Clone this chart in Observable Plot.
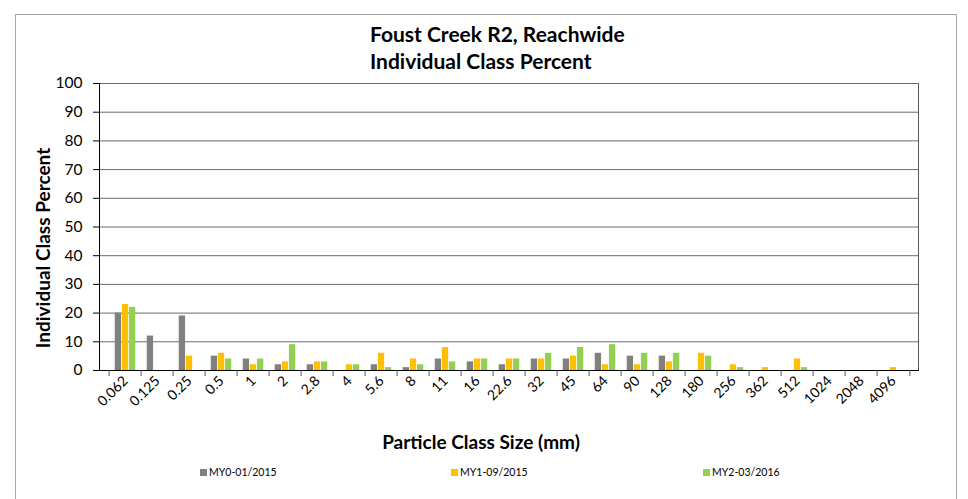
<!DOCTYPE html>
<html>
<head>
<meta charset="utf-8">
<script src="https://cdn.jsdelivr.net/npm/d3@7"></script>
<script src="https://cdn.jsdelivr.net/npm/@observablehq/plot@0.6"></script>
<style>
  body { margin: 0; background: #fff; font-family: Lato, "Open Sans", sans-serif; }
  #wrap { position: relative; width: 968px; height: 499px; overflow: hidden; }
  #border { position: absolute; left: 15px; top: 14px; width: 942px; height: 500px; border: 1px solid #a6a6a6; box-sizing: border-box; }
  #title { position: absolute; left: 370px; top: 20px; text-align: left; font-weight: bold; font-size: 21px; line-height: 27px; color: #000; white-space: nowrap; }
  #chart { position: absolute; left: 0; top: 0; }
  #xlabel { position: absolute; left: 0; width: 962px; top: 430px; text-align: center; font-weight: bold; font-size: 19px; }
  #ylabel { position: absolute; left: 42px; top: 248px; transform: translate(-50%, -50%) rotate(-90deg); font-weight: bold; font-size: 19px; white-space: nowrap; }
  .leg { position: absolute; top: 466px; font-size: 10.5px; display: flex; align-items: center; color: #000; }
  .sw { width: 7px; height: 7px; margin-right: 2px; }
</style>
</head>
<body>
<div id="wrap">
  <div id="border"></div>
  <div id="title">Foust Creek R2, Reachwide<br>Individual Class Percent</div>
  <div id="chart"></div>
  <div id="xlabel">Particle Class Size (mm)</div>
  <div id="ylabel">Individual Class Percent</div>
  <div id="legend"></div>
</div>
<script>
const categories = ["0.062","0.125","0.25","0.5","1","2","2.8","4","5.6","8","11","16","22.6","32","45","64","90","128","180","256","362","512","1024","2048","4096"];
const my0 = [20,12,19,5,4,2,2,0,2,1,4,3,2,4,4,6,5,5,0,0,0,0,0,0,0];
const my1 = [23,0,5,6,2,3,3,2,6,4,8,4,4,4,5,2,2,3,6,2,1,4,0,0,1];
const my2 = [22,0,0,4,4,9,3,2,1,2,3,4,4,6,8,9,6,6,5,1,0,1,0,0,0];
const seriesNames = ["MY0-01/2015","MY1-09/2015","MY2-03/2016"];
const colors = ["#808080","#FFC000","#92D050"];
const yTicks = [0,10,20,30,40,50,60,70,80,90,100];

const data = categories.map((c, i) => ({size: c, v0: my0[i], v1: my1[i], v2: my2[i]}));

const W = 968, mL = 99, mR = 50;
const bw = (W - mL - mR) / categories.length;
const barW = 7.1;
const inset = (bw - barW) / 2;

const chart = Plot.plot({
  width: W,
  height: 455,
  marginTop: 83,
  marginLeft: mL,
  marginRight: mR,
  marginBottom: 85,
  style: {fontFamily: "Lato, 'Open Sans', sans-serif", fontSize: "14px", color: "#000", background: "transparent"},
  x: {domain: categories, padding: 0},
  y: {domain: [0, 100]},
  marks: [
    Plot.ruleY(yTicks.slice(1), {y: d => d, stroke: "#6a6a6a", strokeWidth: 1}),
    Plot.frame({anchor: "right", stroke: "#595959"}),
    Plot.barY(data, {x: "size", y: "v0", fill: colors[0], dx: -barW, insetLeft: inset, insetRight: inset}),
    Plot.barY(data, {x: "size", y: "v1", fill: colors[1], insetLeft: inset, insetRight: inset}),
    Plot.barY(data, {x: "size", y: "v2", fill: colors[2], dx: barW, insetLeft: inset, insetRight: inset}),
    Plot.frame({anchor: "left", stroke: "#000"}),
    Plot.frame({anchor: "bottom", stroke: "#000"}),
    Plot.axisY({ticks: yTicks, tickSize: 6, tickPadding: 11, fontSize: 15.5, label: null}),
    Plot.axisX({tickSize: 0, tickRotate: -45, tickPadding: 8, fontSize: 14, label: null}),
    Plot.axisX({tickSize: 6, text: null, dx: -bw / 2, label: null, stroke: "#595959"}),
    Plot.axisX({ticks: [categories[categories.length - 1]], tickSize: 6, text: null, dx: bw / 2, label: null, stroke: "#595959"})
  ]
});
document.getElementById("chart").appendChild(chart);

const legendX = [200, 451, 703];
const leg = document.getElementById("legend");
seriesNames.forEach((name, i) => {
  const d = document.createElement("div");
  d.className = "leg";
  d.style.left = legendX[i] + "px";
  d.innerHTML = `<span class="sw" style="background:${colors[i]}"></span><span>${name}</span>`;
  leg.appendChild(d);
});
</script>
</body>
</html>
